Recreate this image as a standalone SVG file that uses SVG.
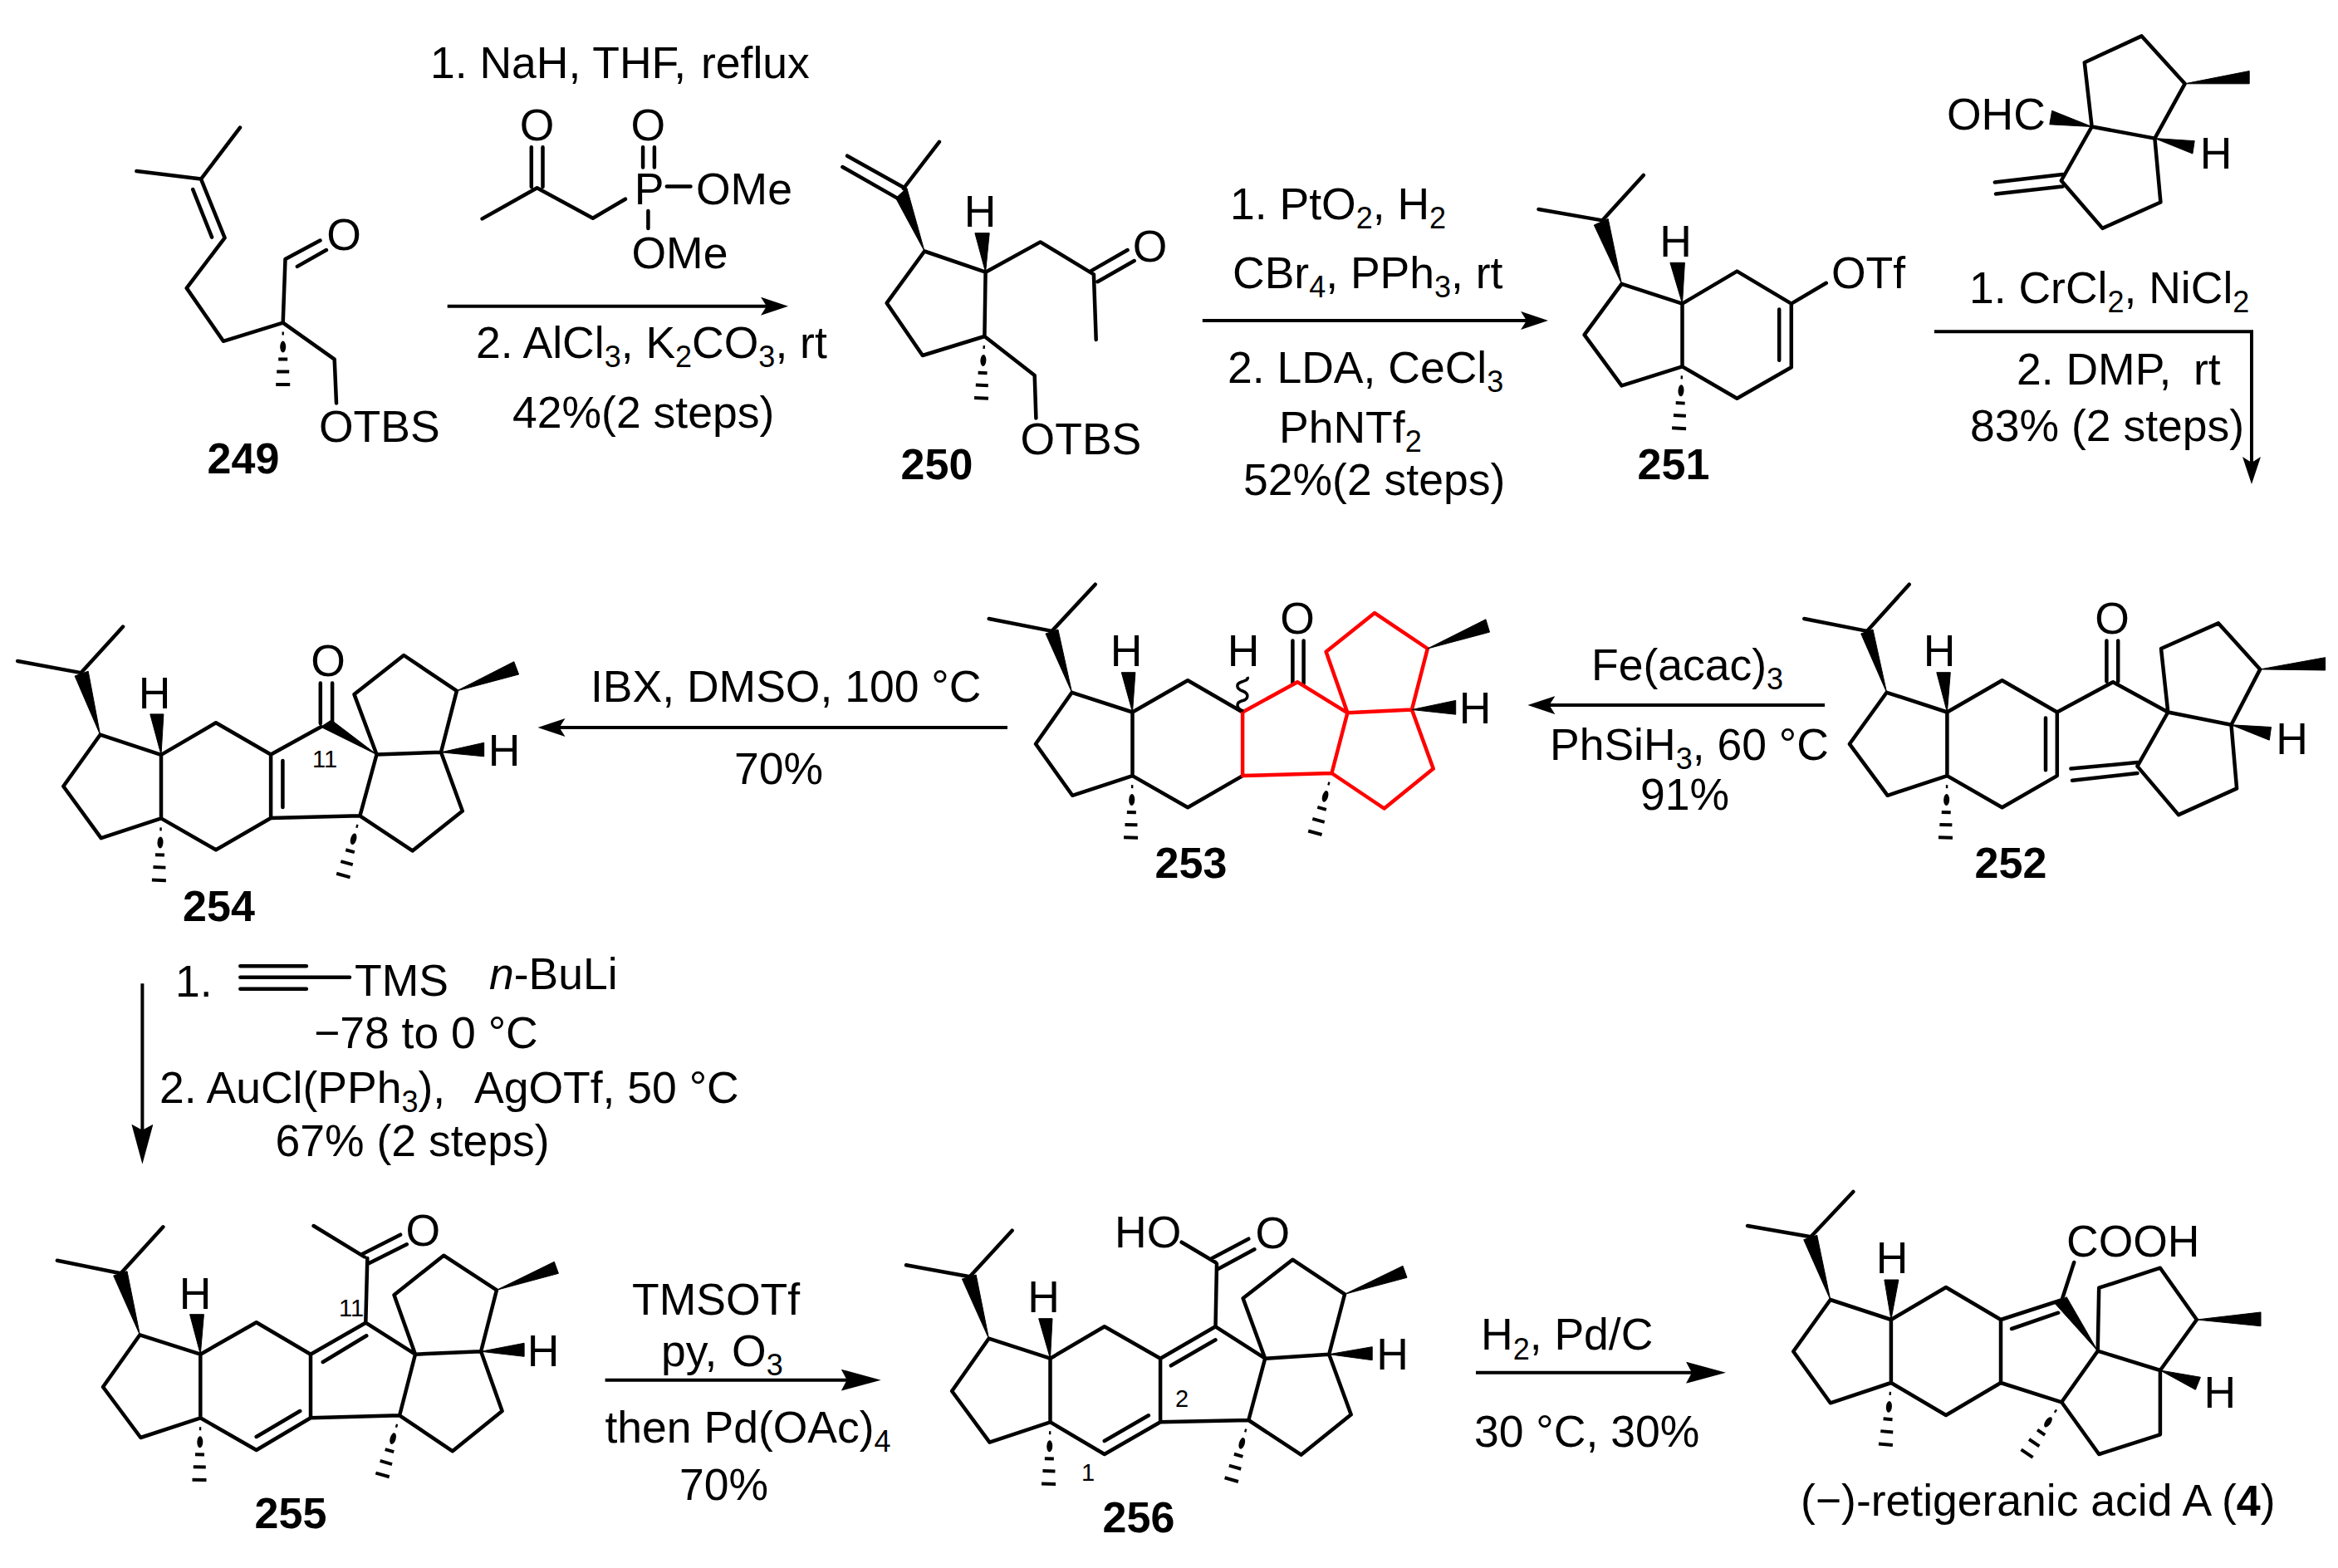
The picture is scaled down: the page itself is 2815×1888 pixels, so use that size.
<svg xmlns="http://www.w3.org/2000/svg" width="2815" height="1888" viewBox="0 0 2815 1888">
<style>
text{font-family:"Liberation Sans",Arial,sans-serif;font-size:53.5px;fill:#000}
.m{text-anchor:middle}
.n{font-weight:bold;font-size:52px}
.s{font-size:29px}
.u{font-size:36px}
.b{fill:none;stroke:#000;stroke-width:4.5;stroke-linejoin:round;stroke-linecap:round}
.r{fill:none;stroke:#f00;stroke-width:4.5;stroke-linejoin:round;stroke-linecap:round}
.w{fill:#000;stroke:#000;stroke-width:1;stroke-linejoin:round}
.a{fill:none;stroke:#000;stroke-width:4}
</style>
<defs>
<g id="hash"><path d="M-1.2 13H1.2M-5.5 44H5.5M-7.5 59H7.5M-8.5 74.5H8.5" fill="none" stroke="#000" stroke-width="4"/><ellipse cx="0" cy="29" rx="3.5" ry="7" fill="#000"/></g>
<marker id="ah" markerUnits="userSpaceOnUse" markerWidth="36" markerHeight="24" refX="25" refY="11" orient="auto" viewBox="0 0 36 24"><path d="M0 0L33 11L0 22L7 11Z" fill="#000"/></marker>
<marker id="ab" markerUnits="userSpaceOnUse" markerWidth="50" markerHeight="28" refX="38" refY="13" orient="auto" viewBox="0 0 50 28"><path d="M0 0L48 13L0 26L7 13Z" fill="#000"/></marker>
</defs>

<g id="connectors">
<path class="a" marker-end="url(#ah)" d="M538.7 368.7H941"/>
<path class="a" marker-end="url(#ah)" d="M1447.8 385.9H1856"/>
<path class="a" marker-end="url(#ah)" d="M2328.9 399.3H2711V575"/>
<path class="a" marker-end="url(#ah)" d="M2197 849.1H1847.4"/>
<path class="a" marker-end="url(#ah)" d="M1213 876H655.5"/>
<path class="a" marker-end="url(#ab)" d="M171.4 1184.3V1391.7"/>
<path class="a" marker-end="url(#ab)" d="M728.6 1661.7H1050.7"/>
<path class="a" marker-end="url(#ab)" d="M1777 1652.7H2068"/>
</g>

<g id="c249">
<path class="b" d="M289 153.6L242 215.6L164.4 206M242 215.6L270.6 286.4L224.7 346.9L268.9 410.8L340.7 388.6L343.5 312L385.5 289.5M232.2 228.2L255.1 285.6M357.9 320.9L392.9 301M340.7 388.6L402.7 432.6L405 485.4"/>
<use href="#hash" transform="translate(340.7,388.6)"/>
<text class="m" x="414" y="301">O</text>
<text x="384" y="532">OTBS</text>
<text class="n m" x="293" y="569.6">249</text>
</g>

<g id="reagent-phosphonate">
<path class="b" d="M580.6 263.4L646.6 226.3L713.8 262.7L752.9 239.7M639.8 177.3V225M653.5 177.3V225M774.1 177.3V201.4M787.9 177.3V201.4M802.8 224.4H831.5M780.4 253.9V275"/>
<text class="m" x="646.6" y="168.5">O</text>
<text class="m" x="780.4" y="168.5">O</text>
<text class="m" x="781.5" y="246">P</text>
<text x="838" y="246">OMe</text>
<text x="760.5" y="322.8">OMe</text>
</g>

<g id="conditions-1">
<text x="518" y="94">1. NaH, THF, <tspan x="844">reflux</tspan></text>
<text x="573" y="431">2. AlCl<tspan class="u" dy="11">3</tspan><tspan dy="-11">, K</tspan><tspan class="u" dy="11">2</tspan><tspan dy="-11">CO</tspan><tspan class="u" dy="11">3</tspan><tspan dy="-11">, rt</tspan></text>
<text x="617" y="515">42%(2 steps)</text>
</g>

<g id="c250">
<path class="b" d="M1130.9 170.8L1087.8 227M1020.1 187.7L1089 226.3M1014.4 201L1080.4 238.6M1113.1 302.5L1186.6 327.7L1185.4 405L1110.8 428L1067.7 364.9Z M1186.6 327.7L1252.6 291.4L1316.9 330.4L1319.7 408.9M1312.9 326.6L1357.6 301M1321.5 339.2L1365.7 314M1185.4 405L1245.7 452L1247.4 503.4"/>
<path class="w" d="M1113.1 302.5L1078.6 238.6L1091.8 226.3Z"/>
<path class="w" d="M1186.6 327.7L1173.9 280.7H1191.2Z"/>
<use href="#hash" transform="translate(1185.4,405) rotate(3)"/>
<text class="m" x="1180" y="273">H</text>
<text class="m" x="1384.6" y="315">O</text>
<text x="1228.6" y="547.4">OTBS</text>
<text class="n m" x="1128" y="576.5">250</text>
</g>

<g id="conditions-2">
<text x="1481" y="264">1. PtO<tspan class="u" dy="11">2</tspan><tspan dy="-11">, H</tspan><tspan class="u" dy="11">2</tspan></text>
<text x="1484" y="347">CBr<tspan class="u" dy="11">4</tspan><tspan dy="-11">, PPh</tspan><tspan class="u" dy="11">3</tspan><tspan dy="-11">, rt</tspan></text>
<text x="1478" y="460.5">2. LDA, CeCl<tspan class="u" dy="11">3</tspan></text>
<text x="1540" y="533">PhNTf<tspan class="u" dy="11">2</tspan></text>
<text x="1497" y="596.4">52%(2 steps)</text>
</g>

<g id="c251">
<path class="b" d="M1978.8 211L1929.2 265.4L1852.5 252M1952.5 341.9L2025.5 365.6L2025.5 441.4L1952.5 464.4L1907.6 403.1ZM2025.5 365.6L2091.4 326.6L2156.8 365.6L2156.8 442.2L2091.4 479.7L2025.5 441.4M2142.2 372.5V433.7M2156.8 365.6L2198.8 340.8"/>
<path class="w" d="M1952.5 341.9L1919.3 271L1936.2 263.4Z"/>
<path class="w" d="M2025.5 365.6L2010.9 316.3H2028.4Z"/>
<use href="#hash" transform="translate(2025.5,441.4) rotate(3)"/>
<text class="m" x="2017.6" y="309.4">H</text>
<text x="2205" y="346.9">OTf</text>
<text class="n m" x="2015" y="577">251</text>
</g>

<g id="reagent-aldehyde">
<path class="b" d="M2509.8 75.2L2578.6 43.4L2630.6 100.8L2594.4 166.6L2518.6 152.5ZM2518.6 152.5L2481.8 217.5L2531.4 274.9L2601.4 243.5L2594.4 166.6M2401.8 219.4L2483.5 209.9M2403 233.6L2483.5 224.4"/>
<path class="w" d="M2630.6 100.8L2708.2 85.5V100.8Z"/>
<path class="w" d="M2518.6 152.5L2470.7 133.3L2467.8 149.8Z"/>
<path class="w" d="M2594.4 166.6L2642.2 169.7L2639.9 185Z"/>
<text x="2344" y="156.3">OHC</text>
<text class="m" x="2668" y="203.4">H</text>
</g>

<g id="conditions-3">
<text x="2371" y="364.9">1. CrCl<tspan class="u" dy="11">2</tspan><tspan dy="-11">, NiCl</tspan><tspan class="u" dy="11">2</tspan></text>
<text x="2428" y="462.5">2. DMP, <tspan x="2641">rt</tspan></text>
<text x="2372" y="531">83% (2 steps)</text>
</g>

<g id="c252">
<path class="b" d="M2298.7 703.7L2247.9 759.9L2172.3 745M2271.6 833.8L2344.4 857.5L2344.4 934.1L2272.7 957.8L2226.9 895.8ZM2344.4 857.5L2410.6 819.3L2476.8 857.5V934.1L2410.6 972.3L2344.4 934.1M2463 864.4V927.2M2476.8 857.5L2544.1 821.2L2610.3 857.5L2602 781L2671 750.4L2721.2 805.9L2686.5 872.8L2610.3 857.5L2573.4 922.6L2623 981.1L2693.1 949.4L2686.5 872.8M2536.4 771.4V820.4M2550.2 771.4V820.4M2493.4 925.6L2573.4 918M2495 939.8L2573.4 931"/>
<path class="w" d="M2271.6 833.8L2240.7 763L2255 758Z"/>
<path class="w" d="M2344.4 857.5L2331.8 809.7H2348.3Z"/>
<path class="w" d="M2721.2 805.9L2799.6 791.7V807Z"/>
<path class="w" d="M2686.5 872.8L2734.5 875.5L2732.3 891.2Z"/>
<use href="#hash" transform="translate(2344.4,934.1) rotate(1.5)"/>
<text class="m" x="2335" y="802">H</text>
<text class="m" x="2543" y="763">O</text>
<text class="m" x="2759.5" y="908.4">H</text>
<text class="n m" x="2421" y="1057.3">252</text>
</g>

<g id="conditions-4">
<text x="1916" y="819.3">Fe(acac)<tspan class="u" dy="11">3</tspan></text>
<text x="1866" y="915">PhSiH<tspan class="u" dy="11">3</tspan><tspan dy="-11">, 60 °C</tspan></text>
<text x="1975" y="975">91%</text>
</g>

<g id="c253">
<path class="b" d="M1318.7 703.7L1266.5 759.9L1190.7 745M1290.6 833.8L1363.5 857.5V934.1L1291.2 957.8L1247 895.8ZM1363.5 857.5L1430.1 819.3L1496.1 857.5M1496.1 934.1L1430.1 972.3L1363.5 934.1M1556.4 771.4V823.1M1569.6 771.4V823.1"/>
<path class="r" d="M1496.1 857.5L1562.1 821.2L1622.4 858.3L1603.4 931L1496.1 934.1ZM1622.4 858.3L1596.6 784.8L1655.1 738.1L1718.8 781L1699.9 854.5L1622.4 858.3M1699.9 854.5L1725.7 925.6L1666.6 973.5L1603.4 931"/>
<path d="M1497 856c-9-3-9-10-2-12c9-2 9-9 1-12c-8-3-8-9-1-11c6-2 8-3 7-6" fill="none" stroke="#000" stroke-width="3.5"/>
<path class="w" d="M1290.6 833.8L1259 763L1273.9 758Z"/>
<path class="w" d="M1363.5 857.5L1350.3 809.7H1366.9Z"/>
<path class="w" d="M1718.8 781L1788.9 745.8L1793.5 761.1Z"/>
<path class="w" d="M1699.9 854.5L1752.7 843.4V860.2Z"/>
<use href="#hash" transform="translate(1363.5,934.1) rotate(1.5)"/>
<use href="#hash" transform="translate(1603.4,931) rotate(15.6)"/>
<text class="m" x="1356" y="802">H</text>
<text class="m" x="1497" y="802">H</text>
<text class="m" x="1562" y="763">O</text>
<text class="m" x="1776" y="870.9">H</text>
<text class="n m" x="1434" y="1057.3">253</text>
</g>

<g id="conditions-5">
<text x="711" y="844.6">IBX, DMSO, 100 °C</text>
<text x="884" y="944">70%</text>
</g>

<g id="c254">
<path class="b" d="M148.1 754.6L97.6 810.1L21.2 796M120.6 884.7L194 908.9V985.4L121.7 1009.1L76.3 946.7ZM194 908.9L260 870.2L326.1 908.5V985L260 1023.3L194 985.4M340.4 916.1V972M326.1 908.5L386.3 875.2M385.8 822.4V871M400.1 822.4V871M453.5 908.5L433.4 982.3L326.1 985M453.5 908.5L426.5 836.1L486.2 789L549.9 831.9L531 905.8L453.5 908.5M531 905.8L556.8 976.6L496.6 1024.4L433.4 982.3"/>
<path class="w" d="M120.6 884.7L90.1 814L106.2 808.2Z"/>
<path class="w" d="M194 908.9L180.8 859.9H196.9Z"/>
<path class="w" d="M453.5 908.5L386.3 875.2L399 867Z"/>
<path class="w" d="M549.9 831.9L618.8 796.7L624.6 812Z"/>
<path class="w" d="M531 905.8L582.7 894.3V910.8Z"/>
<use href="#hash" transform="translate(194,985.4) rotate(2)"/>
<use href="#hash" transform="translate(433.4,982.3) rotate(15.6)"/>
<text class="m" x="186" y="853">H</text>
<text class="m" x="395" y="814">O</text>
<text class="m" x="607" y="921.9">H</text>
<text class="s" x="376" y="923.8">11</text>
<text class="n m" x="263.5" y="1108.6">254</text>
</g>

<g id="conditions-6">
<text x="211" y="1200">1.</text>
<path class="b" d="M289.3 1163.3H368.9M289.3 1176.7H421M289.3 1190.7H368.9"/>
<text x="427" y="1199.3">TMS</text>
<text x="589" y="1190.7"><tspan font-style="italic">n</tspan>-BuLi</text>
<text x="378" y="1261.7">−78 to 0 °C</text>
<text x="192" y="1328.3">2. AuCl(PPh<tspan class="u" dy="11">3</tspan><tspan dy="-11">), <tspan x="571">AgOTf, 50 °C</tspan></tspan></text>
<text x="331.5" y="1391.7">67% (2 steps)</text>
</g>

<g id="c255">
<path class="b" d="M196.4 1477.3L145.4 1533.3L68.9 1517.7M168.4 1607.3L241.3 1630.7V1707.3L169.4 1731L124 1670ZM241.3 1630.7L308.7 1592.3L374 1630.7V1707.3L308.7 1746L241.3 1707.3M308.7 1730L361.2 1699M374 1630.7L440.3 1592.7M388.8 1640L441.3 1608.3M440.3 1592.7L500 1630.7L481.1 1704.3L374 1707.3M440.3 1592.7L442.3 1515M436.2 1510L482.1 1486.7M442.9 1521.7L489.8 1498.3M377.6 1476L438.8 1513.3M500 1630.7L474.5 1559.3L534.2 1511.7L598 1553.3L579.1 1627.3L500 1630.7M579.1 1627.3L604.6 1699L544.9 1747.3L481.1 1704.3"/>
<path class="w" d="M168.4 1607.3L136.7 1536L153 1530.7Z"/>
<path class="w" d="M241.3 1630.7L228.6 1582.7H245.4Z"/>
<path class="w" d="M598 1553.3L667.3 1519.3L672.4 1533.3Z"/>
<path class="w" d="M579.1 1627.3L631.1 1617.3V1633.3Z"/>
<use href="#hash" transform="translate(241.3,1707.3) rotate(1)"/>
<use href="#hash" transform="translate(481.1,1704.3) rotate(16)"/>
<text class="m" x="235" y="1576">H</text>
<text class="m" x="509.2" y="1500">O</text>
<text class="m" x="654" y="1645">H</text>
<text class="s" x="408" y="1585">11</text>
<text class="n m" x="350" y="1840">255</text>
</g>

<g id="conditions-7">
<text x="761" y="1583">TMSOTf</text>
<text x="796" y="1645">py, <tspan x="881">O</tspan><tspan class="u" dy="11">3</tspan></text>
<text x="728.5" y="1736.7">then Pd(OAc)<tspan class="u" dy="11">4</tspan></text>
<text x="818" y="1806">70%</text>
</g>

<g id="c256">
<path class="b" d="M1218.6 1481.7L1167.6 1537.3L1091 1523.3M1190.5 1611.7L1264.5 1635.7V1712.3L1191.5 1736.7L1146.1 1675ZM1264.5 1635.7L1329.8 1597.3L1397.1 1635.7V1712.3L1329.8 1751L1264.5 1712.3M1329.8 1735L1382.9 1704.3M1397.1 1635.7L1463.5 1597.3M1409.9 1644.3L1463.5 1613.3M1463.5 1597.3L1523.2 1635.7L1503.3 1710L1397.1 1712.3M1463.5 1597.3L1465 1521.7M1422.7 1495.7L1463.5 1520M1459.4 1515L1503.3 1491.7M1466 1528.3L1510.4 1504.3M1523.2 1635.7L1496.6 1563.3L1556.3 1516.7L1619.1 1558.3L1600.2 1630.7L1523.2 1635.7M1600.2 1630.7L1626.7 1703.3L1566.5 1751.7L1503.3 1710"/>
<path class="w" d="M1190.5 1611.7L1158.4 1540L1175.2 1535Z"/>
<path class="w" d="M1264.5 1635.7L1250.7 1587.7H1267Z"/>
<path class="w" d="M1619.1 1558.3L1689 1524.3L1694 1538.3Z"/>
<path class="w" d="M1600.2 1630.7L1652.2 1621.7V1637.7Z"/>
<use href="#hash" transform="translate(1264.5,1712.3) rotate(1.5)"/>
<use href="#hash" transform="translate(1503.3,1710) rotate(16)"/>
<text class="m" x="1256.5" y="1580">H</text>
<text x="1342" y="1501.7">HO</text>
<text class="m" x="1532.3" y="1503.3">O</text>
<text class="m" x="1676.5" y="1649.3">H</text>
<text class="s" x="1415" y="1694">2</text>
<text class="s" x="1302" y="1783.3">1</text>
<text class="n m" x="1371" y="1845">256</text>
</g>

<g id="conditions-8">
<text x="1783" y="1625">H<tspan class="u" dy="12">2</tspan><tspan dy="-12">, Pd/C</tspan></text>
<text x="1775" y="1741.7">30 °C, 30%</text>
</g>

<g id="c4">
<path class="b" d="M2231.3 1435L2180.2 1489.3L2104.1 1476M2203.8 1565L2276.9 1589V1665L2203.8 1689.3L2159.2 1627.3ZM2276.9 1589L2343 1550L2409 1589V1665L2343 1704L2276.9 1665M2409 1589L2483.2 1565M2422.1 1600L2478.2 1580.7M2483.2 1563.3L2497.2 1520M2525.7 1626.7L2482.2 1688.3L2409 1665M2525.7 1626.7L2527.2 1550.7L2600.9 1526.7L2644.9 1589L2600.9 1650L2525.7 1626.7M2600.9 1650V1727.3L2527.2 1751L2482.2 1688.3"/>
<path class="w" d="M2203.8 1565L2171.7 1492.7L2187.7 1487.3Z"/>
<path class="w" d="M2276.9 1589L2268.9 1541H2285.9Z"/>
<path class="w" d="M2525.7 1626.7L2474.7 1570L2488.2 1561.7Z"/>
<path class="w" d="M2644.9 1589L2722 1580V1596.7Z"/>
<path class="w" d="M2600.9 1650L2649.4 1658.3L2643.4 1673.3Z"/>
<use href="#hash" transform="translate(2276.9,1665) rotate(5)"/>
<use href="#hash" transform="translate(2482.2,1688.3) rotate(34)"/>
<text class="m" x="2278" y="1533.3">H</text>
<text x="2488" y="1513.3">COOH</text>
<text class="m" x="2672.7" y="1695">H</text>
<text x="2168" y="1825">(−)-retigeranic acid A (<tspan class="n" font-size="53.5">4</tspan>)</text>
</g>
</svg>
